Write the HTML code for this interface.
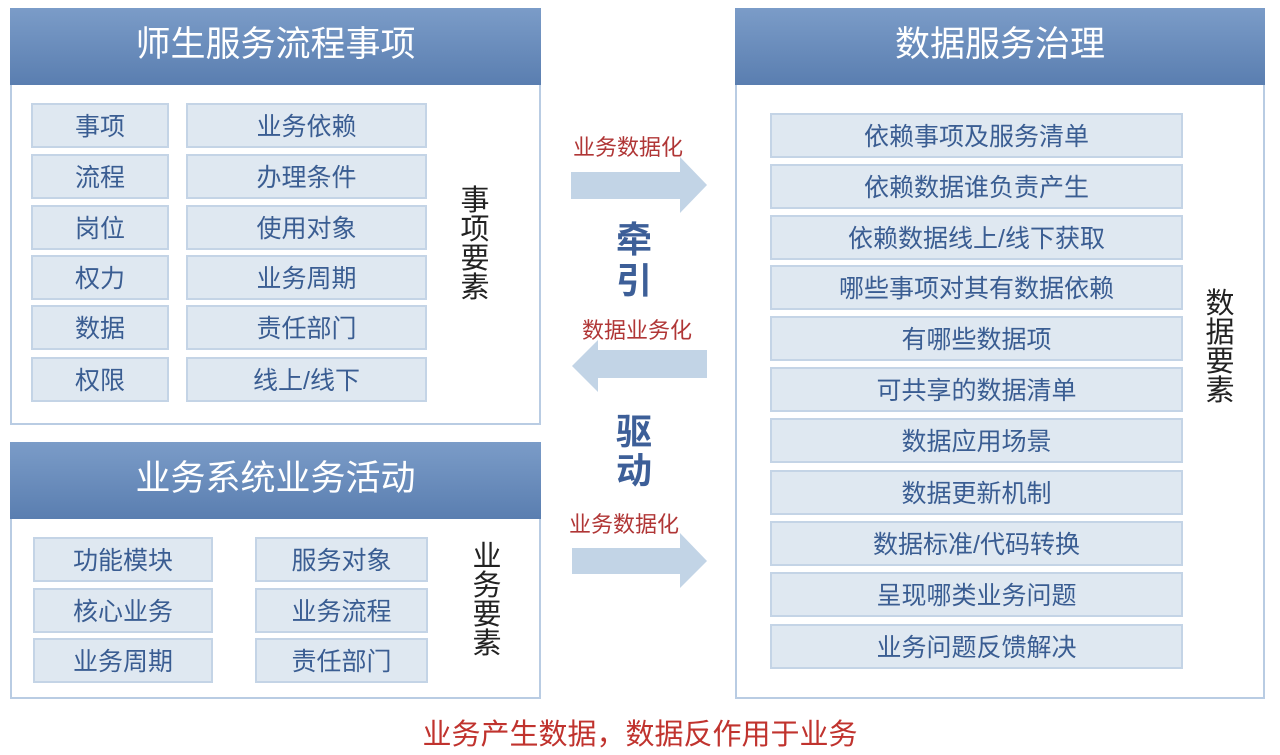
<!DOCTYPE html>
<html><head><meta charset="utf-8"><style>
body{margin:0;width:1280px;height:755px;background:#fff;position:relative;overflow:hidden;font-family:"Liberation Sans","Noto Sans CJK SC",sans-serif;}
.a{position:absolute;box-sizing:border-box;}
.panel{border:2px solid #b9cce3;background:#fff;}
.hd{background:linear-gradient(#7b9cc8,#5a7eb0);color:#fff;font-size:35px;text-align:center;line-height:74px;}
.b{background:#dfe8f1;border:2px solid #c4d4e6;color:#3a5d92;font-size:25px;text-align:center;display:flex;align-items:center;justify-content:center;padding-bottom:2px;}
.v{font-size:29px;line-height:29px;width:30px;text-align:center;color:#222;}
.r{color:#b03636;font-size:22px;white-space:nowrap;}
.k{color:#3d5f98;font-size:36px;font-weight:bold;}
</style></head><body>
<div class="a panel" style="left:10px;top:8px;width:531px;height:417px"></div>
<div class="a hd" style="left:10px;top:8px;width:531px;height:77px">师生服务流程事项</div>
<div class="a b" style="left:31px;top:103px;width:138px;height:45px">事项</div>
<div class="a b" style="left:31px;top:154px;width:138px;height:45px">流程</div>
<div class="a b" style="left:31px;top:205px;width:138px;height:45px">岗位</div>
<div class="a b" style="left:31px;top:255px;width:138px;height:45px">权力</div>
<div class="a b" style="left:31px;top:305px;width:138px;height:45px">数据</div>
<div class="a b" style="left:31px;top:357px;width:138px;height:45px">权限</div>
<div class="a b" style="left:186px;top:103px;width:241px;height:45px">业务依赖</div>
<div class="a b" style="left:186px;top:154px;width:241px;height:45px">办理条件</div>
<div class="a b" style="left:186px;top:205px;width:241px;height:45px">使用对象</div>
<div class="a b" style="left:186px;top:255px;width:241px;height:45px">业务周期</div>
<div class="a b" style="left:186px;top:305px;width:241px;height:45px">责任部门</div>
<div class="a b" style="left:186px;top:357px;width:241px;height:45px">线上/线下</div>
<div class="a v" style="left:460px;top:187px">事项要素</div>
<div class="a panel" style="left:10px;top:442px;width:531px;height:257px"></div>
<div class="a hd" style="left:10px;top:442px;width:531px;height:77px">业务系统业务活动</div>
<div class="a b" style="left:33px;top:537px;width:180px;height:45px">功能模块</div>
<div class="a b" style="left:33px;top:588px;width:180px;height:45px">核心业务</div>
<div class="a b" style="left:33px;top:638px;width:180px;height:45px">业务周期</div>
<div class="a b" style="left:255px;top:537px;width:173px;height:45px">服务对象</div>
<div class="a b" style="left:255px;top:588px;width:173px;height:45px">业务流程</div>
<div class="a b" style="left:255px;top:638px;width:173px;height:45px">责任部门</div>
<div class="a v" style="left:472px;top:543px">业务要素</div>
<div class="a panel" style="left:735px;top:8px;width:530px;height:691px"></div>
<div class="a hd" style="left:735px;top:8px;width:530px;height:77px">数据服务治理</div>
<div class="a b" style="left:770px;top:113px;width:413px;height:45px">依赖事项及服务清单</div>
<div class="a b" style="left:770px;top:164px;width:413px;height:45px">依赖数据谁负责产生</div>
<div class="a b" style="left:770px;top:215px;width:413px;height:45px">依赖数据线上/线下获取</div>
<div class="a b" style="left:770px;top:265px;width:413px;height:45px">哪些事项对其有数据依赖</div>
<div class="a b" style="left:770px;top:316px;width:413px;height:45px">有哪些数据项</div>
<div class="a b" style="left:770px;top:367px;width:413px;height:45px">可共享的数据清单</div>
<div class="a b" style="left:770px;top:418px;width:413px;height:45px">数据应用场景</div>
<div class="a b" style="left:770px;top:470px;width:413px;height:45px">数据更新机制</div>
<div class="a b" style="left:770px;top:521px;width:413px;height:45px">数据标准/代码转换</div>
<div class="a b" style="left:770px;top:572px;width:413px;height:45px">呈现哪类业务问题</div>
<div class="a b" style="left:770px;top:624px;width:413px;height:45px">业务问题反馈解决</div>
<div class="a v" style="left:1205px;top:290px">数据要素</div>
<svg class="a" style="left:0;top:0" width="1280" height="755">
<polygon fill="#c2d4e6" points="571,172 680,172 680,157 707,185 680,213 680,199 571,199"/>
<polygon fill="#c2d4e6" points="707,350 598,350 598,340 572,366 598,392 598,378 707,378"/>
<polygon fill="#c2d4e6" points="572,548 680,548 680,533 707,561 680,588 680,574 572,574"/>
</svg>
<div class="a r" style="left:573px;top:130px">业务数据化</div>
<div class="a r" style="left:582px;top:313px">数据业务化</div>
<div class="a r" style="left:569px;top:507px">业务数据化</div>
<div class="a k" style="left:616px;top:211px">牵</div>
<div class="a k" style="left:616px;top:252px">引</div>
<div class="a k" style="left:616px;top:403px">驱</div>
<div class="a k" style="left:616px;top:442px">动</div>
<div class="a" style="left:0;top:711px;width:1280px;text-align:center;color:#c0332e;font-size:29px">业务产生数据，数据反作用于业务</div>
</body></html>
